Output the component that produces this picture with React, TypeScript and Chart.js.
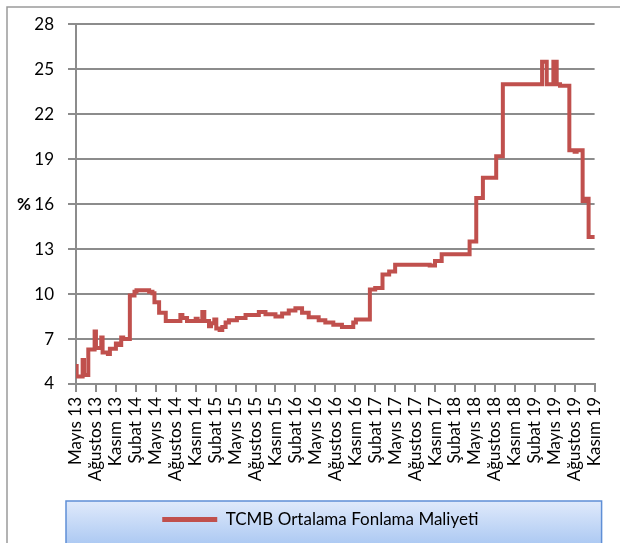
import React, { useEffect, useRef } from "react";
import { Chart, registerables } from "chart.js";

Chart.register(...registerables);

// Quarterly tick labels (x axis, months since May 2013, every 3 months)
const tickLabels = [
  "Mayıs 13", "Ağustos 13", "Kasım 13", "Şubat 14", "Mayıs 14", "Ağustos 14", "Kasım 14",
  "Şubat 15", "Mayıs 15", "Ağustos 15", "Kasım 15", "Şubat 16", "Mayıs 16", "Ağustos 16",
  "Kasım 16", "Şubat 17", "Mayıs 17", "Ağustos 17", "Kasım 17", "Şubat 18", "Mayıs 18",
  "Ağustos 18", "Kasım 18", "Şubat 19", "Mayıs 19", "Ağustos 19", "Kasım 19",
];

// Step start positions (months since May 2013) and funding-cost levels (%)
const monthOffsets = [
  0, 0.1, 1.0, 1.2, 1.85, 2.8, 3.0, 3.8, 4.0, 4.8, 5.1, 6.0, 6.4, 6.8, 7.1,
  8.1, 8.8, 9.1, 11.0, 11.5, 11.8, 12.5, 13.5, 15.7, 16.0, 16.7, 18.0, 18.3,
  19.0, 19.3, 20.0, 20.3, 20.8, 21.1, 21.6, 22.0, 22.5, 23.0, 24.2, 25.5,
  27.5, 28.5, 30.0, 31.0, 32.0, 33.0, 34.0, 35.0, 36.5, 37.5, 38.7, 40.0,
  41.7, 42.1, 44.2, 45.0, 46.1, 47.1, 48.0, 50.0, 52.0, 53.2, 54.0, 55.0,
  59.2, 60.2, 61.2, 63.2, 64.2, 70.1, 70.8, 71.8, 72.3, 72.8, 74.2, 75.0,
  75.3, 76.2, 76.6, 77.1, 78.2,
];
const rates = [
  5.2, 4.5, 5.6, 4.6, 6.3, 7.5, 6.4, 7.1, 6.1, 6.0, 6.35, 6.7, 6.6, 7.1, 7.0,
  9.9, 10.15, 10.25, 10.15, 10.05, 9.45, 8.75, 8.2, 8.6, 8.4, 8.2, 8.35, 8.2,
  8.8, 8.2, 7.85, 8.05, 8.3, 7.7, 7.6, 7.8, 8.1, 8.25, 8.4, 8.6,
  8.8, 8.65, 8.5, 8.7, 8.9, 9.05, 8.75, 8.45, 8.25, 8.1, 7.95, 7.8,
  8.1, 8.3, 10.3, 10.4, 11.3, 11.5, 11.95, 11.95, 11.95, 11.9, 12.2, 12.65,
  13.5, 16.4, 17.75, 19.2, 24.0, 25.5, 24.0, 25.5, 24.0, 23.9, 19.6, 19.5,
  19.6, 16.2, 16.35, 13.8, 13.8,
];

const seriesName = "TCMB Ortalama Fonlama Maliyeti";
const lineColor = "#c0504d";
const gridColor = "#8c8c8c";
const fontFamily = "Lato, 'Open Sans', sans-serif";

const decorPlugin = {
  id: "decor",
  afterLayout(chart: any) {
    const { legend, chartArea } = chart;
    if (legend) {
      legend.left = chartArea.left - 30;
      legend.right = chartArea.right;
    }
  },
  beforeDraw(chart: any) {
    const { ctx, chartArea, legend, width, height } = chart;
    ctx.save();
    ctx.fillStyle = "#ffffff";
    ctx.fillRect(0, 0, width, height);
    // outer frame
    ctx.strokeStyle = "#9a9a9a";
    ctx.lineWidth = 1.5;
    ctx.beginPath();
    ctx.moveTo(7, height + 2);
    ctx.lineTo(7, 7);
    ctx.lineTo(width + 2, 7);
    ctx.stroke();
    // legend box
    if (legend) {
      const x0 = chartArea.left - 10;
      const x1 = chartArea.right + 7;
      const y0 = legend.top;
      const y1 = height + 4;
      const g = ctx.createLinearGradient(0, y0, 0, y1);
      g.addColorStop(0, "#e0eafb");
      g.addColorStop(1, "#a9c7f2");
      ctx.fillStyle = g;
      ctx.fillRect(x0, y0, x1 - x0, y1 - y0);
      ctx.strokeStyle = "#5f8fd6";
      ctx.lineWidth = 1.5;
      ctx.strokeRect(x0, y0, x1 - x0, y1 - y0);
    }
    ctx.restore();
  },
  afterDraw(chart: any) {
    const { ctx, chartArea } = chart;
    ctx.save();
    ctx.fillStyle = "#000";
    ctx.font = `bold 17px ${fontFamily}`;
    ctx.textAlign = "center";
    ctx.textBaseline = "middle";
    ctx.fillText("%", 24, (chartArea.top + chartArea.bottom) / 2);
    ctx.restore();
  },
};

export default function App() {
  const canvasRef = useRef<HTMLCanvasElement | null>(null);

  useEffect(() => {
    document.body.style.margin = "0";
    const canvas = canvasRef.current;
    if (!canvas) return;
    const points = monthOffsets.map((m, i) => ({ x: m, y: rates[i] }));
    const chart = new Chart(canvas, {
      type: "line",
      data: {
        datasets: [
          {
            label: seriesName,
            data: points,
            borderColor: lineColor,
            backgroundColor: lineColor,
            borderWidth: 4,
            pointRadius: 0,
            stepped: true,
            fill: false,
          },
        ],
      },
      options: {
        animation: false,
        responsive: false,
        devicePixelRatio: 1,
        layout: { padding: { left: 0, right: 24, top: 18, bottom: 5 } },
        font: { family: fontFamily, size: 17 },
        color: "#000",
        scales: {
          x: {
            type: "linear",
            min: 0,
            max: 78,
            afterFit: (scale: any) => {
              scale.height = 117;
            },
            border: { color: gridColor, width: 2 },
            grid: { drawOnChartArea: false, color: gridColor, lineWidth: 2, tickLength: 8 },
            ticks: {
              stepSize: 3,
              autoSkip: false,
              maxRotation: 90,
              minRotation: 90,
              padding: 5,
              color: "#000",
              font: { family: fontFamily, size: 17 },
              callback: (v: any) => tickLabels[Math.round(Number(v) / 3)] ?? "",
            },
          },
          y: {
            min: 4,
            max: 28,
            afterFit: (scale: any) => {
              scale.width = 76;
            },
            border: { color: gridColor, width: 2 },
            grid: { color: gridColor, lineWidth: 2, tickLength: 8 },
            ticks: {
              stepSize: 3,
              padding: 14,
              color: "#000",
              font: { family: fontFamily, size: 17 },
            },
          },
        },
        plugins: {
          legend: {
            position: "bottom",
            labels: {
              padding: 10,
              boxWidth: 55,
              boxHeight: 5,
              color: "#000",
              font: { family: fontFamily, size: 17 },
              generateLabels: (ch: any) =>
                Chart.defaults.plugins.legend.labels.generateLabels(ch).map((it: any) => ({
                  ...it,
                  lineWidth: 0,
                  fillStyle: lineColor,
                  strokeStyle: lineColor,
                })),
            },
          },
          tooltip: { enabled: false },
        },
      },
      plugins: [decorPlugin],
    } as any);
    return () => chart.destroy();
  }, []);

  return (
    <div style={{ width: 620, height: 543, overflow: "hidden" }}>
      <canvas ref={canvasRef} width={620} height={543} style={{ display: "block" }} />
    </div>
  );
}
